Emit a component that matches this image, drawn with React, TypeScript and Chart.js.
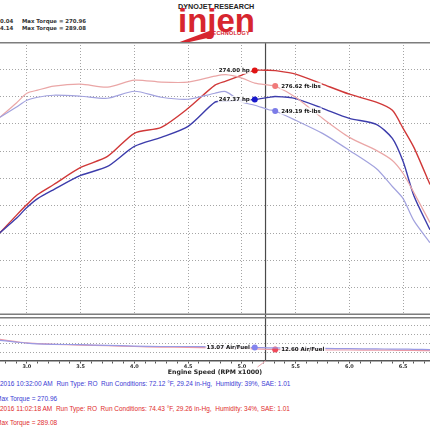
import React, { useEffect, useRef } from "react";
import { Chart, registerables } from "chart.js";

Chart.register(...registerables);

// ---------------- data ----------------
const rpm = [2.75, 2.9, 3.0, 3.1, 3.25, 3.5, 3.75, 4.0, 4.25, 4.5, 4.75, 4.85, 5.0, 5.12, 5.25, 5.31, 5.5, 5.75, 6.0, 6.25, 6.4, 6.5, 6.6, 6.75];

// run 1 (blue, 10:32 AM)
const run1Hp = [125.4, 138.3, 148.4, 156.6, 164.9, 177.8, 186.0, 204.4, 212.7, 222.8, 244.9, 245.8, 246.7, 247.37, 249.3, 250.04, 248.2, 239.3, 230.1, 224.6, 211.7, 190.5, 159.3, 128.0];
const run1Tq = [242.3, 253.3, 261.0, 264.3, 266.5, 265.4, 263.2, 270.9, 264.3, 262.1, 268.7, 270.5, 259.0, 255.5, 250.6, 249.19, 239.0, 224.6, 205.9, 186.0, 166.2, 152.9, 128.7, 104.4];
const run1Afr = [14.7, 14.3, 14.05, 13.9, 13.8, 13.7, 13.55, 13.4, 13.3, 13.3, 13.2, 13.15, 13.1, 13.07, 13.0, 12.98, 12.9, 12.85, 12.8, 12.75, 12.7, 12.7, 12.65, 12.6];

// run 2 (red, 11:02 AM)
const run2Hp = [125.4, 141.0, 151.1, 160.3, 169.5, 185.1, 195.2, 216.4, 221.9, 239.3, 260.5, 264.2, 269.7, 274.0, 274.1, 273.8, 270.6, 261.4, 252.2, 244.9, 237.5, 220.9, 203.5, 169.5];
const run2Tq = [242.3, 257.7, 268.7, 272.1, 276.5, 278.7, 275.4, 283.1, 280.9, 280.9, 287.5, 289.08, 285.3, 279.8, 277.6, 276.62, 264.3, 241.2, 220.2, 205.9, 194.8, 180.5, 159.5, 126.5];
const run2Afr = [14.9, 14.4, 14.1, 13.95, 13.8, 13.6, 13.5, 13.3, 13.15, 13.1, 13.0, 12.95, 12.85, 12.75, 12.65, 12.6, 12.55, 12.5, 12.5, 12.45, 12.45, 12.4, 12.4, 12.35];

const xLabelTicks = [3.0, 3.5, 4.0, 4.5, 5.0, 5.5, 6.0, 6.5];
const xMinorTicks = [2.8, 2.9, 3.0, 3.1, 3.2, 3.3, 3.4, 3.5, 3.6, 3.7, 3.8, 3.9, 4.0, 4.1, 4.2, 4.3, 4.4, 4.5, 4.6, 4.7, 4.8, 4.9, 5.0, 5.1, 5.2, 5.3, 5.4, 5.5, 5.6, 5.7, 5.8, 5.9, 6.0, 6.1, 6.2, 6.3, 6.4, 6.5, 6.6, 6.7];
const hpGrid = [75, 100, 125, 150, 175, 200, 225, 250, 275];
const afrGrid = [12, 14, 16, 18];

const cursorRpm = 5.22;
const hpMarkRpm = 5.12;
const tqMarkRpm = 5.31;

const headerRun1 = ["0.04", "Max Torque = 270.96"];
const headerRun2 = ["4.14", "Max Torque = 289.08"];
const run1Info = "2016 10:32:00 AM  Run Type: RO  Run Conditions: 72.12 \u00B0F, 29.24 in-Hg,  Humidity: 39%, SAE: 1.01";
const run1Max = "Max Torque = 270.96";
const run2Info = "2016 11:02:18 AM  Run Type: RO  Run Conditions: 74.43 \u00B0F, 29.26 in-Hg,  Humidity: 34%, SAE: 1.01";
const run2Max = "Max Torque = 289.08";

// ---------------- helpers ----------------
const pts = (ys: number[]) => rpm.map((x, i) => ({ x, y: ys[i] }));

type MarkLabel = { ds: number; idx: number; text: string; side: "left" | "right" };

function labelPlugin(id: string, items: MarkLabel[]) {
  return {
    id,
    afterDatasetsDraw(chart: any) {
      const ctx = chart.ctx;
      ctx.save();
      ctx.font = 'bold 5.5px "DejaVu Sans"';
      ctx.textBaseline = "middle";
      ctx.textAlign = "left";
      for (const it of items) {
        const el = chart.getDatasetMeta(it.ds).data[it.idx];
        if (!el) continue;
        const w = ctx.measureText(it.text).width;
        const x = it.side === "left" ? el.x - 5 - w : el.x + 6;
        ctx.fillStyle = "rgba(255,255,255,0.85)";
        ctx.fillRect(x - 1, el.y - 3.5, w + 2, 7);
        ctx.fillStyle = "#111";
        ctx.fillText(it.text, x, el.y + 0.5);
      }
      ctx.restore();
    },
  };
}

function framePlugin(id: string, opts: { top: boolean; bottom: boolean; cursorFromTop: boolean }) {
  return {
    id,
    beforeDatasetsDraw(chart: any) {
      const { ctx, chartArea } = chart;
      const x = chart.scales.x.getPixelForValue(cursorRpm);
      ctx.save();
      ctx.strokeStyle = "#4a4a4a";
      ctx.lineWidth = 1.2;
      ctx.beginPath();
      if (opts.cursorFromTop) {
        ctx.moveTo(x, chartArea.top);
        ctx.lineTo(x, chart.height);
      } else {
        ctx.moveTo(x, 0);
        ctx.lineTo(x, chartArea.bottom);
      }
      ctx.stroke();
      if (!opts.cursorFromTop) {
        ctx.strokeStyle = "#e9a3ad";
        ctx.lineWidth = 1;
        ctx.beginPath();
        ctx.moveTo(x, chartArea.bottom);
        ctx.lineTo(x - 8, chartArea.bottom + 6);
        ctx.stroke();
      }
      ctx.restore();
    },
    afterDraw(chart: any) {
      const { ctx, chartArea } = chart;
      ctx.save();
      ctx.strokeStyle = "#7d7d7d";
      ctx.lineWidth = 1.5;
      if (opts.top) {
        ctx.beginPath();
        ctx.moveTo(0, chartArea.top + 0.75);
        ctx.lineTo(chart.width, chartArea.top + 0.75);
        ctx.stroke();
      }
      if (opts.bottom) {
        ctx.beginPath();
        ctx.moveTo(0, chartArea.bottom - 0.75);
        ctx.lineTo(chart.width, chartArea.bottom - 0.75);
        ctx.stroke();
      }
      ctx.restore();
    },
  };
}

const GRID = "#a5a5a5";

const Txt = (p: { x: number; y: number; size: number; color: string; bold?: boolean; family?: string; children: any; spacing?: number }) => (
  <div
    style={{
      position: "absolute",
      left: p.x,
      top: p.y - p.size / 2,
      fontSize: p.size,
      lineHeight: `${p.size}px`,
      whiteSpace: "pre",
      color: p.color,
      fontWeight: p.bold ? 700 : 400,
      fontFamily: p.family || "'Liberation Sans', Arial, sans-serif",
      letterSpacing: p.spacing ?? 0,
    }}
  >
    {p.children}
  </div>
);

export default function App() {
  const mainRef = useRef<HTMLCanvasElement>(null);
  const afrRef = useRef<HTMLCanvasElement>(null);

  useEffect(() => {
    const hpIdx = rpm.indexOf(hpMarkRpm);
    const tqIdx = rpm.indexOf(tqMarkRpm);
    const radiusAt = (idx: number, r: number) => (c: any) => (c.dataIndex === idx ? r : 0);

    const mainChart = new Chart(mainRef.current as HTMLCanvasElement, {
      type: "line",
      data: {
        datasets: [
          { label: "Run 1 Torque", data: pts(run1Tq), yAxisID: "yTq", borderColor: "#a2a2de", borderWidth: 1.2, pointRadius: radiusAt(tqIdx, 3), pointBackgroundColor: "#7c7ce8", pointBorderWidth: 0, tension: 0.25 },
          { label: "Run 2 Torque", data: pts(run2Tq), yAxisID: "yTq", borderColor: "#eaa6a6", borderWidth: 1.2, pointRadius: radiusAt(tqIdx, 3), pointBackgroundColor: "#f07a7a", pointBorderWidth: 0, tension: 0.25 },
          { label: "Run 1 Power", data: pts(run1Hp), yAxisID: "yHp", borderColor: "#3c3cab", borderWidth: 1.4, pointRadius: radiusAt(hpIdx, 3), pointBackgroundColor: "#1818cc", pointBorderWidth: 0, tension: 0.25 },
          { label: "Run 2 Power", data: pts(run2Hp), yAxisID: "yHp", borderColor: "#d03838", borderWidth: 1.4, pointRadius: radiusAt(hpIdx, 3), pointBackgroundColor: "#e01414", pointBorderWidth: 0, tension: 0.25 },
        ],
      },
      options: {
        animation: false,
        responsive: false,
        devicePixelRatio: 1,
        events: [],
        layout: { padding: 0, autoPadding: false },
        plugins: { legend: { display: false }, tooltip: { enabled: false }, title: { display: false } },
        scales: {
          x: {
            type: "linear",
            min: 2.75,
            max: 6.75,
            afterBuildTicks: (s: any) => { s.ticks = xLabelTicks.map((v) => ({ value: v })); },
            ticks: { display: false },
            grid: { color: GRID, drawTicks: false, lineWidth: 1 },
            border: { display: false, dash: [1, 2] },
            afterFit: (s: any) => { s.height = 0; },
          },
          yHp: {
            type: "linear",
            position: "left",
            min: 50,
            max: 300,
            afterBuildTicks: (s: any) => { s.ticks = hpGrid.map((v) => ({ value: v })); },
            ticks: { display: false },
            grid: { color: GRID, drawTicks: false, lineWidth: 1 },
            border: { display: false, dash: [1, 2] },
            afterFit: (s: any) => { s.width = 0; },
          },
          yTq: { type: "linear", position: "right", min: 25, max: 325, display: false },
        },
      } as any,
      plugins: [
        framePlugin("frameMain", { top: true, bottom: true, cursorFromTop: true }),
        labelPlugin("labelsMain", [
          { ds: 3, idx: hpIdx, text: `${run2Hp[hpIdx].toFixed(2)} hp`, side: "left" },
          { ds: 1, idx: tqIdx, text: `${run2Tq[tqIdx].toFixed(2)} ft-lbs`, side: "right" },
          { ds: 2, idx: hpIdx, text: `${run1Hp[hpIdx].toFixed(2)} hp`, side: "left" },
          { ds: 0, idx: tqIdx, text: `${run1Tq[tqIdx].toFixed(2)} ft-lbs`, side: "right" },
        ]),
      ],
    });

    const afrChart = new Chart(afrRef.current as HTMLCanvasElement, {
      type: "line",
      data: {
        datasets: [
          { label: "Run 1 AFR", data: pts(run1Afr), borderColor: "#9a9ae4", borderWidth: 1.2, pointRadius: radiusAt(hpIdx, 3), pointBackgroundColor: "#8484ee", pointBorderWidth: 0, tension: 0.25 },
          { label: "Run 2 AFR", data: pts(run2Afr), borderColor: "#ec9aa6", borderWidth: 1.2, pointRadius: radiusAt(tqIdx, 3), pointBackgroundColor: "#f04a5a", pointBorderWidth: 0, tension: 0.25 },
        ],
      },
      options: {
        animation: false,
        responsive: false,
        devicePixelRatio: 1,
        events: [],
        layout: { padding: { top: 2, bottom: 0, left: 0, right: 0 }, autoPadding: false },
        plugins: { legend: { display: false }, tooltip: { enabled: false } },
        scales: {
          x: {
            type: "linear",
            min: 2.75,
            max: 6.75,
            afterBuildTicks: (s: any) => { s.ticks = xMinorTicks.map((v) => ({ value: v })); },
            ticks: {
              autoSkip: false,
              maxRotation: 0,
              padding: 0,
              color: "#333",
              font: { family: "DejaVu Sans", size: 5, weight: "bold" },
              callback: (v: any) => {
                const hit = xLabelTicks.find((t) => Math.abs(t - Number(v)) < 1e-6);
                return hit === undefined ? "" : hit.toFixed(1);
              },
            },
            grid: { drawOnChartArea: false, drawTicks: true, tickLength: 2.5, color: "#555", lineWidth: 1 },
            border: { display: true, color: "#555", width: 1.5 },
            title: {
              display: true,
              text: "Engine Speed (RPM x1000)",
              color: "#222",
              font: { family: "DejaVu Sans", size: 6.2, weight: "bold" },
              padding: { top: 0, bottom: 2.3 },
            },
            afterFit: (s: any) => { s.height = 17; },
          },
          y: {
            type: "linear",
            min: 10,
            max: 20,
            afterBuildTicks: (s: any) => { s.ticks = afrGrid.map((v) => ({ value: v })); },
            ticks: { display: false },
            grid: { color: GRID, drawTicks: false, lineWidth: 1 },
            border: { display: false, dash: [1, 2] },
            afterFit: (s: any) => { s.width = 0; },
          },
        },
      } as any,
      plugins: [
        framePlugin("frameAfr", { top: true, bottom: false, cursorFromTop: false }),
        labelPlugin("labelsAfr", [
          { ds: 0, idx: hpIdx, text: `${run1Afr[hpIdx].toFixed(2)} Air/Fuel`, side: "left" },
          { ds: 1, idx: tqIdx, text: `${run2Afr[tqIdx].toFixed(2)} Air/Fuel`, side: "right" },
        ]),
      ],
    });

    return () => {
      mainChart.destroy();
      afrChart.destroy();
    };
  }, []);

  const dv = "'DejaVu Sans', sans-serif";
  const blue = "#3b3bd4";
  const red = "#e02c2c";

  return (
    <div style={{ position: "absolute", left: 0, top: 0, width: 430, height: 430, overflow: "hidden", background: "#fff" }}>
      {/* header */}
      <Txt x={0} y={22} size={5.4} color="#333" bold family={dv}>{headerRun1[0]}</Txt>
      <Txt x={22} y={22} size={5.4} color="#333" bold family={dv}>{headerRun1[1]}</Txt>
      <Txt x={0} y={28.5} size={5.4} color="#333" bold family={dv}>{headerRun2[0]}</Txt>
      <Txt x={22} y={28.5} size={5.4} color="#333" bold family={dv}>{headerRun2[1]}</Txt>

      {/* logo */}
      <Txt x={178} y={7} size={7.2} color="#222" bold>DYNOJET RESEARCH</Txt>
      <div
        style={{
          position: "absolute",
          left: 178,
          top: 4,
          fontSize: 33,
          lineHeight: "33px",
          fontWeight: 700,
          fontFamily: "'Liberation Sans', Arial, sans-serif",
          color: "#d7262f",
          letterSpacing: 0,
          whiteSpace: "pre",
        }}
      >
        injen
      </div>
      <svg style={{ position: "absolute", left: 0, top: 0 }} width={430} height={45}>
        <polygon points="177,43 212,30 212,37 185,43" fill="#d7262f" />
      </svg>
      <Txt x={209} y={34} size={5.5} color="#d7262f" bold spacing={0.2}>TECHNOLOGY</Txt>

      <canvas ref={mainRef} width={430} height={273} style={{ position: "absolute", left: 0, top: 42, width: 430, height: 273 }} />
      <canvas ref={afrRef} width={430} height={63} style={{ position: "absolute", left: 0, top: 315, width: 430, height: 63 }} />

      {/* footer */}
      <Txt x={0} y={384} size={6.5} color={blue}>{run1Info}</Txt>
      <Txt x={-4} y={399} size={6.5} color={blue}>{run1Max}</Txt>
      <Txt x={0} y={409} size={6.5} color={red}>{run2Info}</Txt>
      <Txt x={-4} y={423} size={6.5} color={red}>{run2Max}</Txt>
    </div>
  );
}
